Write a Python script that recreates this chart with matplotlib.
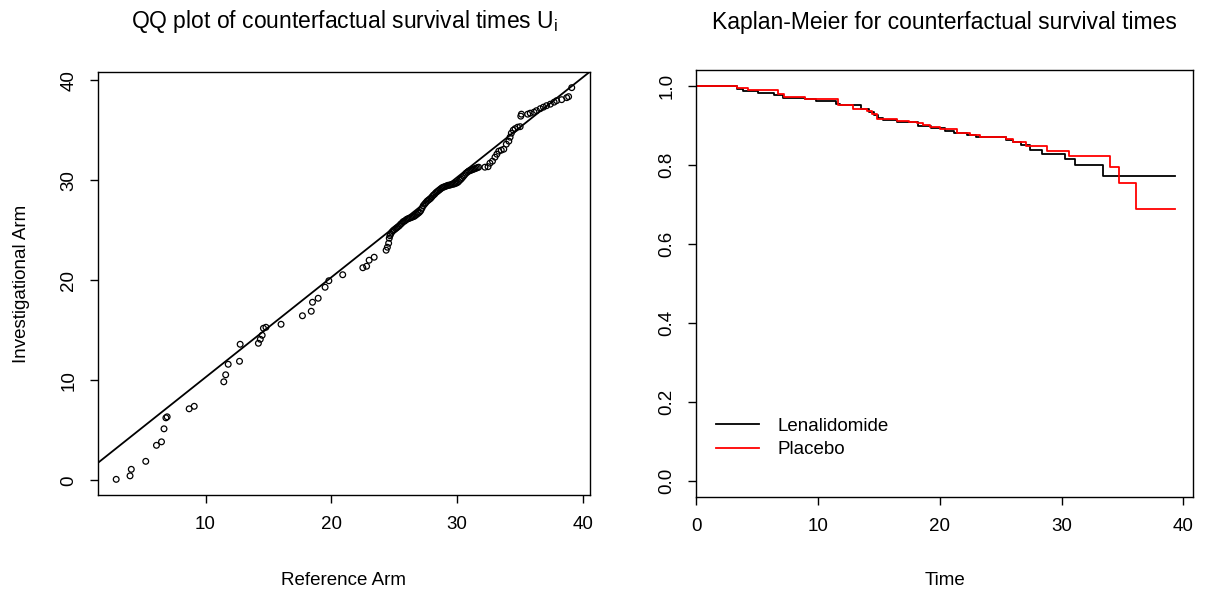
import matplotlib
matplotlib.use("Agg")
import matplotlib.pyplot as plt

plt.rcParams['font.family'] = ['Liberation Sans', 'DejaVu Sans']
plt.rcParams['mathtext.fontset'] = 'custom'
plt.rcParams['mathtext.rm'] = 'Liberation Sans'
plt.rcParams['mathtext.it'] = 'Liberation Sans'

# QQ plot: sorted quantiles, reference arm vs investigational arm
ref_arm = [2.9, 4.0, 4.1, 5.25, 6.1, 6.5, 6.7, 6.85, 6.95, 8.7, 9.1, 11.45, 11.6, 11.8,
           12.7, 12.75, 14.2, 14.35, 14.5, 14.6, 14.8, 16.0, 17.7, 18.4, 18.5, 18.95,
           19.5, 19.8, 20.9, 22.5, 22.8, 23.0, 23.4, 24.35, 24.45, 24.55, 24.6,
           24.65, 24.7, 24.8, 24.9, 25.0, 25.1, 25.2, 25.3, 25.4, 25.5, 25.6, 25.7,
           25.8, 25.9, 26.0, 26.1, 26.2, 26.3, 26.4, 26.5, 26.6, 26.7, 26.8, 26.9,
           27.0, 27.1, 27.2, 27.3, 27.4, 27.5, 27.6, 27.7, 27.8, 27.9, 28.0, 28.1,
           28.2, 28.3, 28.4, 28.5, 28.6, 28.7, 28.8, 28.9, 29.0, 29.1, 29.2, 29.3,
           29.4, 29.5, 29.6, 29.7, 29.8, 29.9, 30.0, 30.1, 30.2, 30.3, 30.4, 30.5,
           30.6, 30.7, 30.8, 30.9, 31.0, 31.1, 31.2, 31.3, 31.4, 31.5, 31.6, 31.7,
           32.2, 32.45, 32.6, 32.8, 33.0, 33.15, 33.3, 33.5, 33.7, 33.9, 34.1, 34.2,
           34.3, 34.45, 34.6, 34.8, 35.0, 35.05, 35.1, 35.6, 35.8, 36.1, 36.3, 36.6,
           36.85, 37.1, 37.4, 37.7, 37.9, 38.3, 38.7, 38.85, 39.1]
inv_arm = [0.1, 0.45, 1.1, 1.9, 3.5, 3.85, 5.15, 6.25, 6.35, 7.15, 7.4, 9.85, 10.55, 11.6,
           11.9, 13.6, 13.7, 14.1, 14.5, 15.2, 15.3, 15.6, 16.45, 16.9, 17.8, 18.2,
           19.3, 19.95, 20.55, 21.25, 21.4, 22.0, 22.3, 23.0, 23.3, 23.7, 24.2,
           24.45, 24.6, 24.8, 24.95, 25.05, 25.15, 25.25, 25.35, 25.45, 25.6, 25.7, 25.85,
           25.9, 26.0, 26.1, 26.15, 26.2, 26.25, 26.3, 26.35, 26.4, 26.5, 26.6, 26.7,
           26.8, 26.95, 27.2, 27.45, 27.6, 27.75, 27.9, 28.0, 28.1, 28.2, 28.35, 28.5,
           28.6, 28.75, 28.85, 28.95, 29.05, 29.15, 29.25, 29.3, 29.35, 29.4, 29.45, 29.5,
           29.5, 29.55, 29.6, 29.6, 29.65, 29.7, 29.75, 29.85, 30.0, 30.1, 30.25, 30.4,
           30.55, 30.7, 30.8, 30.9, 30.95, 31.0, 31.05, 31.1, 31.15, 31.2, 31.25, 31.3,
           31.3, 31.35, 31.7, 31.9, 32.3, 32.6, 32.9, 33.0, 33.1, 33.6, 33.9, 34.3,
           34.7, 35.0, 35.15, 35.3, 35.35, 36.4, 36.6, 36.6, 36.7, 36.8, 36.95, 37.15,
           37.3, 37.45, 37.6, 37.8, 37.95, 38.05, 38.25, 38.35, 39.25]
qq_intercept = 0.3
qq_slope = 1.0

# Kaplan-Meier step curves
len_time = [0, 3.3, 3.8, 5.05, 6.4, 7.1, 8.9, 9.85, 11.5, 11.8, 13.55, 14.2, 14.6, 14.9,
            15.3, 16.5, 18.2, 19.3, 20.4, 21.2, 22.2, 23.0, 25.4, 26.0, 26.7, 27.4,
            28.4, 30.3, 31.1, 33.4, 39.35]
len_surv = [1.0, 0.993, 0.987, 0.982, 0.977, 0.970, 0.966, 0.962, 0.955, 0.952, 0.943,
            0.935, 0.926, 0.918, 0.914, 0.908, 0.899, 0.893, 0.886, 0.880, 0.876, 0.872,
            0.863, 0.857, 0.850, 0.838, 0.828, 0.815, 0.801, 0.773, 0.773]
pla_time = [0, 3.3, 4.25, 6.7, 7.2, 8.9, 11.6, 12.9, 14.0, 14.4, 14.8, 16.5, 17.5, 18.1,
            18.6, 19.2, 20.0, 21.4, 22.5, 23.3, 25.4, 26.0, 27.1, 28.8, 30.6, 34.0,
            34.7, 36.1, 39.35]
pla_surv = [1.0, 0.995, 0.989, 0.980, 0.972, 0.966, 0.953, 0.943, 0.937, 0.928, 0.916,
            0.912, 0.910, 0.906, 0.902, 0.896, 0.890, 0.882, 0.877, 0.871, 0.865, 0.858,
            0.847, 0.836, 0.823, 0.794, 0.754, 0.689, 0.689]
arm_labels = ['Lenalidomide', 'Placebo']
arm_colors = ['black', 'red']

fig = plt.figure(figsize=(12.05, 5.9), dpi=100)
ax1 = fig.add_axes([0.0813, 0.161, 0.4083, 0.717])
ax2 = fig.add_axes([0.578, 0.158, 0.412, 0.723])

def r_style(ax):
    for s in ax.spines.values():
        s.set_linewidth(1.0)
    ax.tick_params(direction='out', length=6, width=1.0, labelsize=13.5, pad=9)
    for lab in ax.get_yticklabels():
        lab.set_rotation(90)
        lab.set_va('center')

# left: QQ plot
ax1.scatter(ref_arm, inv_arm, s=17, facecolors='none', edgecolors='black', linewidths=0.9)
ax1.axline((0, qq_intercept), slope=qq_slope, color='black', lw=1.3)
xr = max(ref_arm) - min(ref_arm)
yr = max(inv_arm) - min(inv_arm)
ax1.set_xlim(min(ref_arm) - 0.04 * xr, max(ref_arm) + 0.04 * xr)
ax1.set_ylim(min(inv_arm) - 0.04 * yr, max(inv_arm) + 0.04 * yr)
ax1.set_xticks([10, 20, 30, 40])
ax1.set_yticks([0, 10, 20, 30, 40])
r_style(ax1)
ax1.set_xlabel('Reference Arm', fontsize=13.5, labelpad=28)
ax1.set_ylabel('Investigational Arm', fontsize=13.5, labelpad=22)
ax1.set_title(r'QQ plot of counterfactual survival times U$_\mathrm{i}$', fontsize=16.5, pad=32)

# right: Kaplan-Meier
ax2.step(len_time, len_surv, where='post', color=arm_colors[0], lw=1.3, label=arm_labels[0])
ax2.step(pla_time, pla_surv, where='post', color=arm_colors[1], lw=1.3, label=arm_labels[1])
ax2.set_xlim(0, 40.8)
ax2.set_ylim(-0.04, 1.04)
ax2.set_xticks([0, 10, 20, 30, 40])
ax2.set_yticks([0.0, 0.2, 0.4, 0.6, 0.8, 1.0])
ax2.set_yticklabels(['0.0', '0.2', '0.4', '0.6', '0.8', '1.0'])
r_style(ax2)
ax2.set_xlabel('Time', fontsize=13.5, labelpad=27)
ax2.set_title('Kaplan-Meier for counterfactual survival times', fontsize=16.5, pad=30)
ax2.legend(loc='upper left', bbox_to_anchor=(0.005, 0.225), frameon=False, fontsize=13.5,
           handlelength=2.3, handletextpad=1.0, labelspacing=0.35)

fig.savefig('out.png', dpi=100)
